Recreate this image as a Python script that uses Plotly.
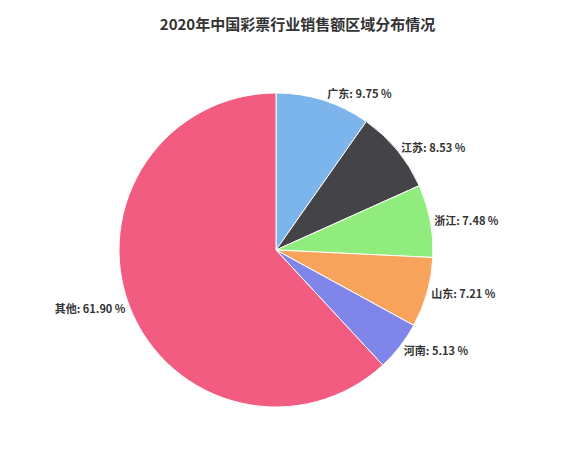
import plotly.graph_objects as go

regions = ["广东", "江苏", "浙江", "山东", "河南", "其他"]
shares = [9.75, 8.53, 7.48, 7.21, 5.13, 61.90]
colors = ["#7cb5ec", "#434348", "#90ed7d", "#f7a35c", "#8085e9", "#f15c80"]

fig = go.Figure(go.Pie(
    labels=regions,
    values=shares,
    sort=False,
    direction="clockwise",
    rotation=0,
    marker=dict(colors=colors, line=dict(color="white", width=1)),
    textposition="outside",
    texttemplate="<b>%{label}: %{value:.2f} %</b>",
    textfont=dict(size=11, color="#333333"),
    showlegend=False,
    domain=dict(x=[111 / 579, 425 / 579], y=[57 / 456, 371 / 456]),
))

fig.update_layout(
    width=579,
    height=456,
    margin=dict(l=0, r=0, t=0, b=0),
    paper_bgcolor="white",
    font=dict(family="Noto Sans CJK SC"),
    title=dict(text="<b>2020年中国彩票行业销售额区域分布情况</b>", x=0.5, y=0.975,
               xanchor="center", font=dict(size=15, color="#333333")),
)

fig.write_html("out.html")
